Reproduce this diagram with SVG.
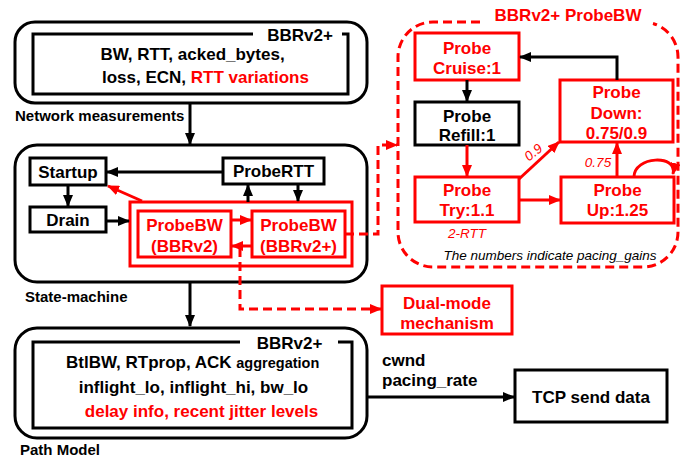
<svg xmlns="http://www.w3.org/2000/svg" width="680" height="459" viewBox="0 0 680 459">
<style>
text{font-family:"Liberation Sans",Arial,sans-serif;font-weight:bold;font-size:17px;fill:#000}
.c{text-anchor:middle}
.r{fill:#ff0000}
.lab{font-size:15px}
.it{font-weight:normal;font-style:italic;font-size:13.5px}
.box{fill:#fff;stroke:#000;stroke-width:3}
.rbox{fill:#fff;stroke:#ff0000;stroke-width:3}
.outer{fill:none;stroke:#000;stroke-width:3}
.ln{fill:none;stroke:#000;stroke-width:3}
.rl{fill:none;stroke:#ff0000;stroke-width:3}
.dash{fill:none;stroke:#ff0000;stroke-width:3;stroke-dasharray:9,5}
</style>
<defs>
<marker id="ab" markerUnits="userSpaceOnUse" markerWidth="12" markerHeight="10" refX="11" refY="5" orient="auto"><path d="M0,0 L12,5 L0,10 z" fill="#000"/></marker>
<marker id="ar" markerUnits="userSpaceOnUse" markerWidth="12" markerHeight="10" refX="11" refY="5" orient="auto"><path d="M0,0 L12,5 L0,10 z" fill="#ff0000"/></marker>
</defs>

<g id="measurements">
<rect class="outer" x="15" y="22" width="352" height="81" rx="20"/>
<path class="ln" d="M253 34 H33 V94 H348 V34 H342"/>
<text class="c" x="300" y="41">BBRv2+</text>
<text class="c" x="192.5" y="60">BW, RTT, acked_bytes,</text>
<text x="102" y="83">loss, ECN, <tspan class="r">RTT variations</tspan></text>
<text class="lab" x="15" y="121">Network measurements</text>
</g>

<g id="state-machine">
<rect class="outer" x="15" y="145" width="352" height="137" rx="22"/>
<text class="lab" x="25" y="302">State-machine</text>
</g>
<g id="startup"><rect class="box" x="30" y="158" width="76" height="27"/><text class="c" x="68" y="177.5">Startup</text></g>
<g id="drain"><rect class="box" x="30" y="207" width="76" height="25"/><text class="c" x="68" y="225.5">Drain</text></g>
<g id="probertt"><rect class="box" x="223" y="158" width="101" height="26"/><text class="c" x="273.5" y="177">ProbeRTT</text></g>
<g id="probebw-group"><rect class="rbox" x="130" y="202" width="222" height="64"/></g>
<g id="probebw-v2"><rect class="rbox" x="138" y="211" width="93" height="46"/><text class="c r" x="184.5" y="231">ProbeBW</text><text class="c r" x="184.5" y="252">(BBRv2)</text></g>
<g id="probebw-v2plus"><rect class="rbox" x="252" y="211" width="93" height="46"/><text class="c r" x="298.5" y="231">ProbeBW</text><text class="c r" x="298.5" y="252">(BBRv2+)</text></g>

<g id="dual-mode"><rect class="rbox" x="382" y="286" width="130" height="48"/><text class="c r" x="447" y="309">Dual-mode</text><text class="c r" x="447" y="329">mechanism</text></g>

<g id="path-model">
<rect class="outer" x="15" y="328" width="352" height="110" rx="22"/>
<path class="ln" d="M240 342 H33 V428 H352 V342 H338"/>
<text class="c" x="289.5" y="349">BBRv2+</text>
<text x="66" y="368">BtlBW, RTprop, ACK <tspan style="font-size:14.5px">aggregation</tspan></text>
<text class="c" x="193.5" y="393">inflight_lo, inflight_hi, bw_lo</text>
<text class="c r" x="201.5" y="417">delay info, recent jitter levels</text>
<text class="lab" x="20" y="455">Path Model</text>
</g>

<g id="tcp"><rect class="box" x="515" y="370" width="152" height="52"/><text class="c" x="591" y="403">TCP send data</text></g>
<g id="out-labels"><text x="382" y="366">cwnd</text><text x="382" y="386">pacing_rate</text></g>

<g id="probebw-detail">
<path class="dash" d="M480 22 H433 A35 35 0 0 0 398 57 V232 A35 35 0 0 0 433 267 H643 A35 35 0 0 0 678 232 V57 A35 35 0 0 0 653 23.5"/>
<text class="c r" x="568" y="21">BBRv2+ ProbeBW</text>
<text class="c it" x="550" y="260">The numbers indicate pacing_gains</text>
</g>
<g id="cruise"><rect class="rbox" x="415" y="33" width="104" height="47"/><text class="c r" x="467" y="54">Probe</text><text class="c r" x="467" y="74">Cruise:1</text></g>
<g id="refill"><rect class="box" x="415" y="102" width="104" height="43"/><text class="c" x="467" y="122">Probe</text><text class="c" x="467" y="141">Refill:1</text></g>
<g id="down"><rect class="rbox" x="560" y="80" width="113" height="62"/><text class="c r" x="616.5" y="98">Probe</text><text class="c r" x="616.5" y="119">Down:</text><text class="c r" x="616.5" y="139">0.75/0.9</text></g>
<g id="try"><rect class="rbox" x="415" y="177" width="104" height="45"/><text class="c r" x="467" y="196">Probe</text><text class="c r" x="467" y="216">Try:1.1</text><text class="c it r" x="467" y="238">2-RTT</text></g>
<g id="up"><rect class="rbox" x="561" y="177" width="113" height="46"/><text class="c r" x="617.5" y="196">Probe</text><text class="c r" x="617.5" y="216">Up:1.25</text></g>

<g id="connectors">
<path class="ln" d="M190 103 V144" marker-end="url(#ab)"/>
<path class="ln" d="M190 282 V326" marker-end="url(#ab)"/>
<path class="ln" d="M223 172 H107" marker-end="url(#ab)"/>
<path class="ln" d="M68 185 V206" marker-end="url(#ab)"/>
<path class="ln" d="M106 221 H129" marker-end="url(#ab)"/>
<path class="ln" d="M248 202 V185" marker-end="url(#ab)"/>
<path class="ln" d="M298 184 V201" marker-end="url(#ab)"/>
<path class="rl" d="M142 201 L108 186" marker-end="url(#ar)"/>
<path class="rl" d="M231 220 H251" marker-end="url(#ar)"/>
<path class="rl" d="M252 246 H232" marker-end="url(#ar)"/>
<path class="dash" d="M345 234 H378 V145 H397" marker-end="url(#ar)"/>
<path class="dash" d="M240 248 V309 H381" marker-end="url(#ar)"/>
<path class="ln" d="M367 397 H514" marker-end="url(#ab)"/>
<path class="ln" d="M467 80 V101" marker-end="url(#ab)"/>
<path class="ln" d="M617 80 V57 H520" marker-end="url(#ab)"/>
<path class="rl" d="M467 145 V176" marker-end="url(#ar)"/>
<path class="rl" d="M519 200 H560" marker-end="url(#ar)"/>
<path class="rl" d="M519 179 L559 142" marker-end="url(#ar)"/>
<path class="rl" d="M617 177 V143" marker-end="url(#ar)"/>
<path class="rl" d="M634 177 C634 156 678 154 673 174" marker-end="url(#ar)"/>
<text class="it r" x="533" y="157" text-anchor="middle" transform="rotate(-40 533 152)">0.9</text>
<text class="it r" x="598" y="167" text-anchor="middle">0.75</text>
</g>
</svg>
